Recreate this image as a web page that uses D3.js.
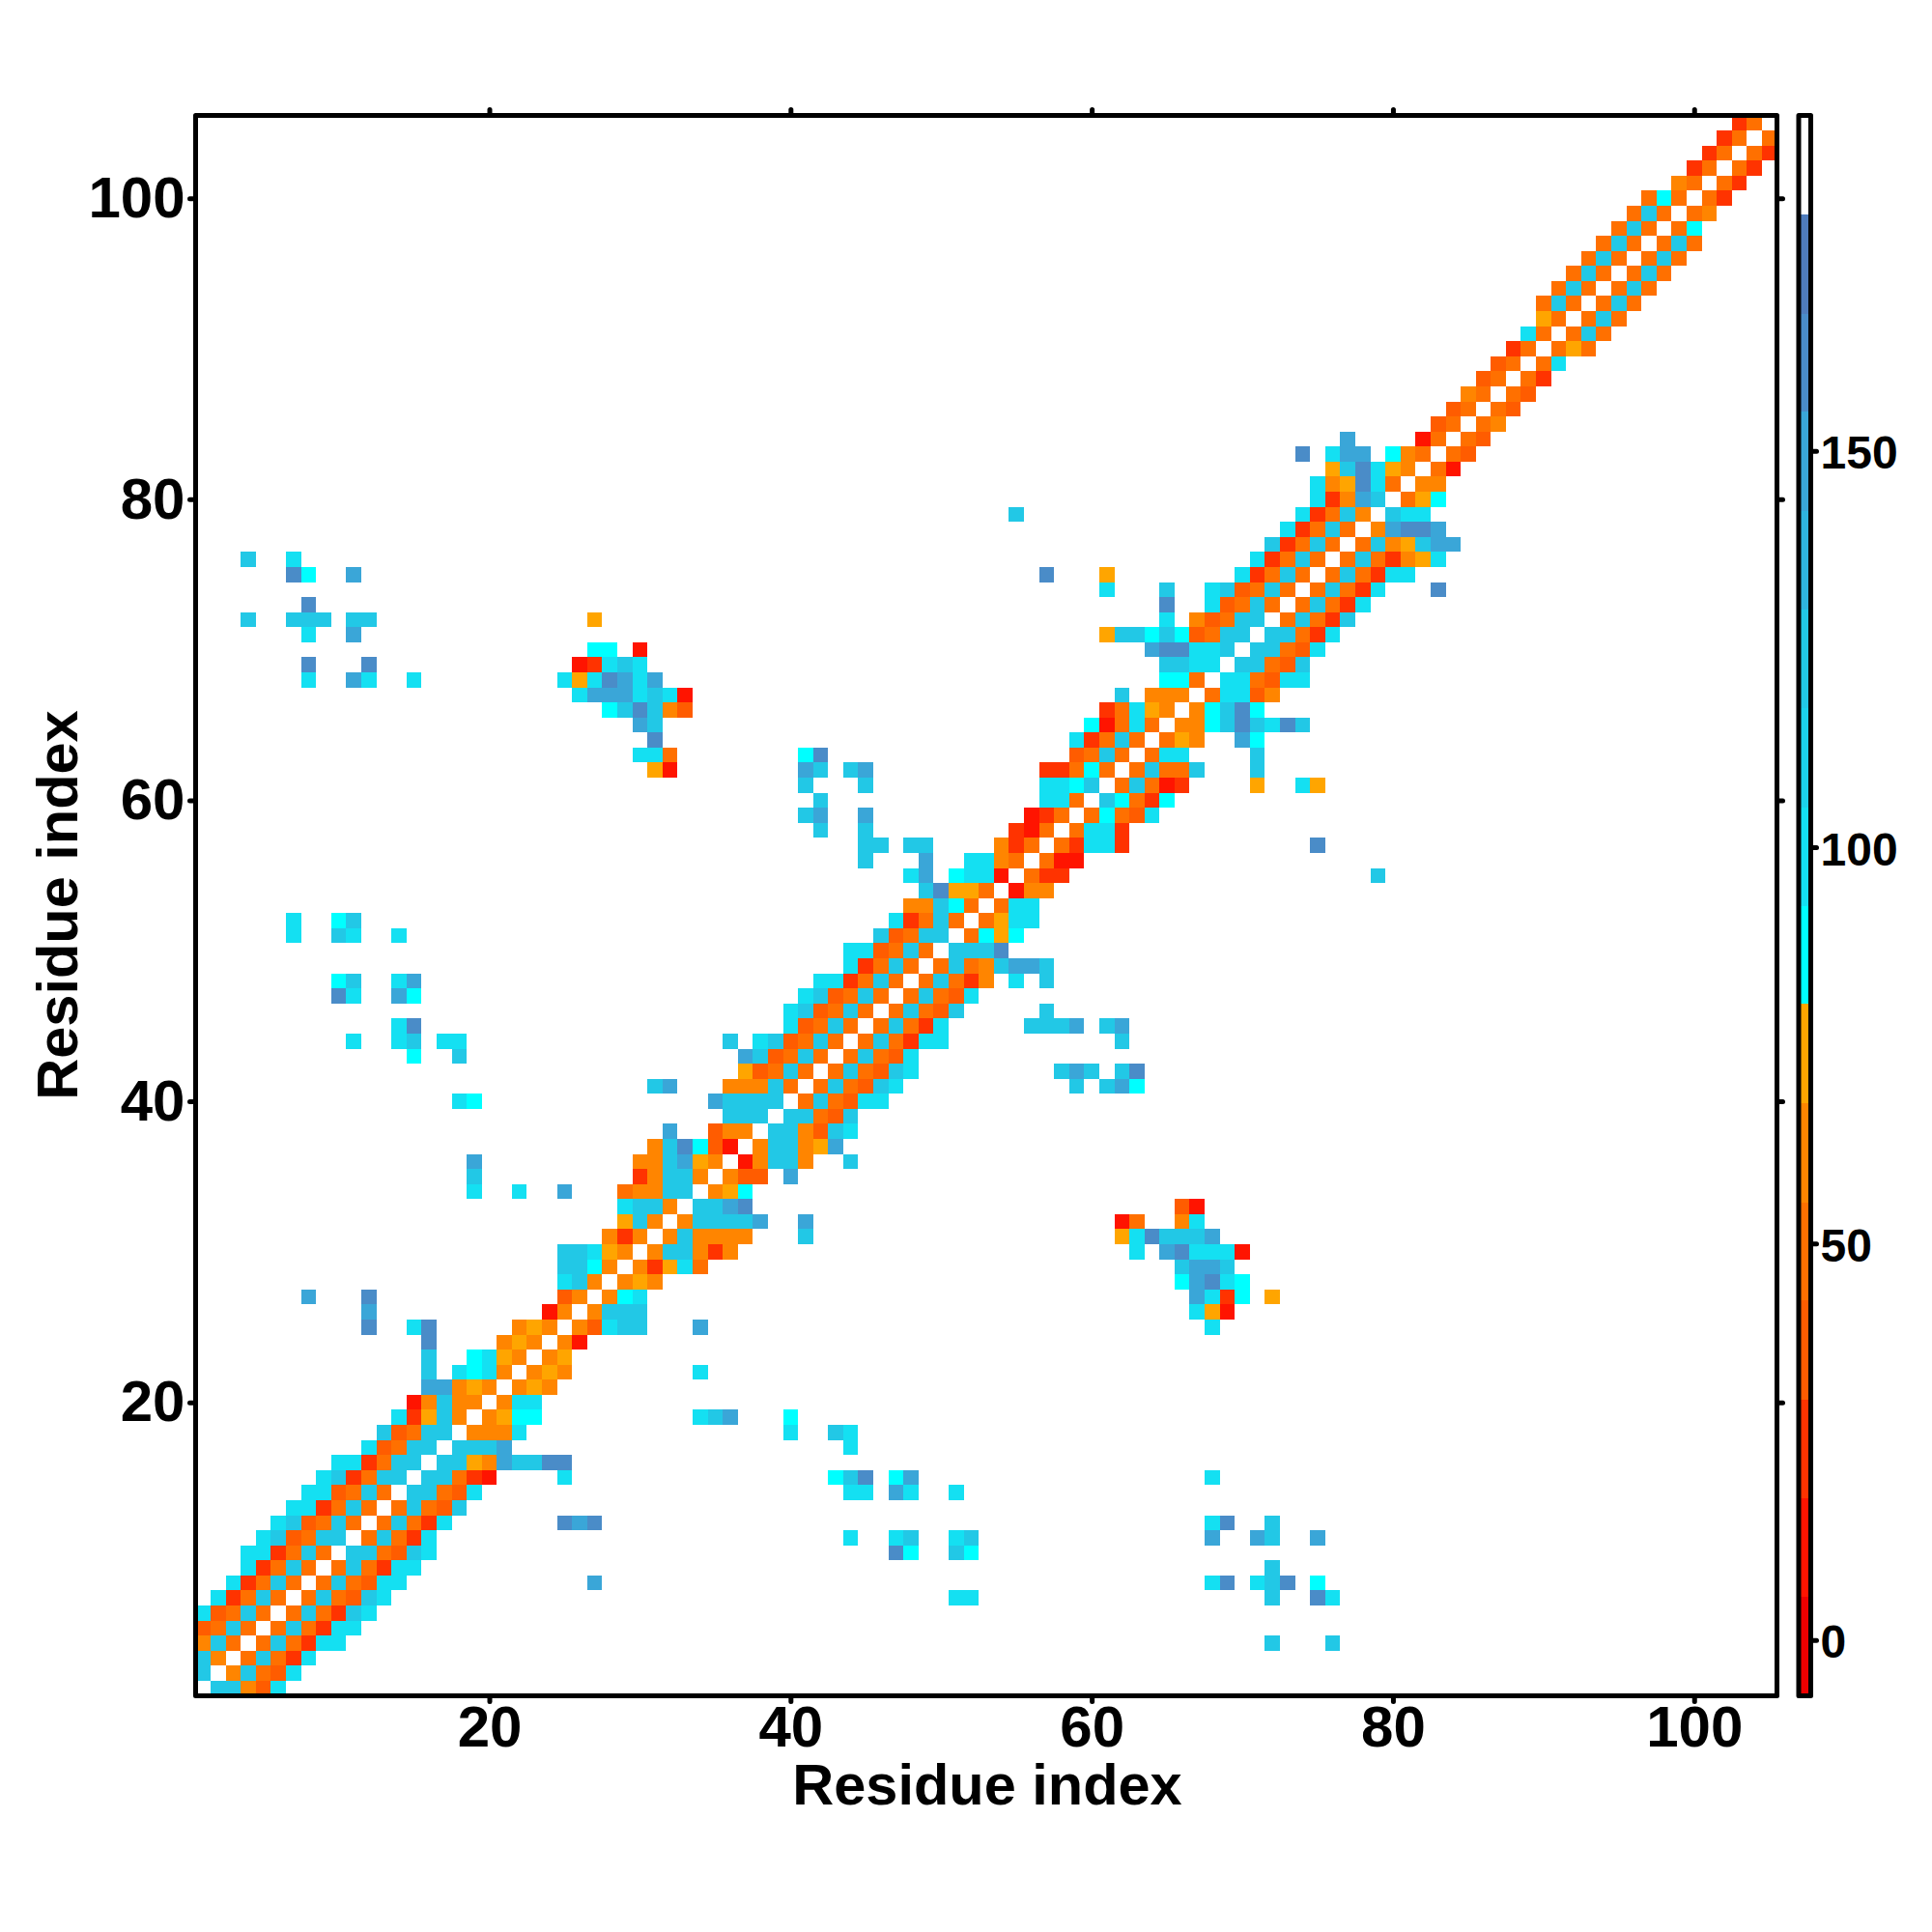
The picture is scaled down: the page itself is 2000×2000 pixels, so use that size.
<!DOCTYPE html>
<html>
<head>
<meta charset="utf-8">
<script src="https://cdn.jsdelivr.net/npm/d3@7"></script>
<style>
html,body{margin:0;padding:0;background:#fff}
svg{display:block}
text{font-family:"Liberation Sans",Arial,sans-serif;font-weight:700;fill:#000}
</style>
</head>
<body>
<svg id="chart" width="2000" height="2000"></svg>
<script>
// Level codes, each with a representative value (degrees)
const levelCodes  = ["R","r","d","o","O","a","c","t","s","b","B"];
const levelValues = [10, 25, 35, 48, 60, 72, 88, 100, 122, 148, 160];

// Colour bar bands
const bandBreaks = [5.4,17.9,30.3,42.8,55.2,67.7,80.2,92.6,105,117.5,130,142.4,154.9,167.3,179.8];
const bandColors = ["#ee0000","#ff1400","#ff3300","#ff5c00","#ff7000","#ff8500","#ffa500","#00ffff","#14e0f2","#1cd2ec","#22c8e6","#2fb4de","#3aa6d8","#4a8cc8","#4f7cbc","#ffffff"];
const barDomain = [-7.05,192.3];
const barTicks = [0,50,100,150];
const axisTicks = [20,40,60,80,100];

// Band next to the diagonal: entry k of a row is residue pair (row, row+1+k); "." is empty.
const bandRows = [
"ssOdt","Osodt","osort","osortt","osortt","osorst","osodst","osodtt","osortt","ssodst",
"osort","osort","osods","ssodt","ssorR","ssaObssBB","sssb","OOOt","Oacc","Ott",
"OaO","OaO","Oa","OR","Odtss","Osss","Oct","OaO","Orato","OssOrO",
"OsOOOO","Ossssb","ssbB","Oac","Odd.b","ROssO..s","OssOab","ssOdst","ssods","osodtt",
"osodst","osodst","osodt","osortt","osort","osods","osodt","osorO.t.s","osoOsbbs","sssB",
"ocac","oatt","ott","ROO","orr","oRR","orttr","ottr","ocodt","scorc",
"osoRr","osoos","ott","oaO..bc","OOcsBstBs","OcsBc","ottdO","ttodtt","ssods","ssodt",
"ssort","osors","osort","osort...B","osortt","osorOat","osOasbb","ObBBb","stt","oac",
"OO","oR","od","od","oO","od","od","or","ot","oao",
"oso","oso","oso","oso","oso","oso","oso","oc","oO","or",
"or","or","or","o"
];

// Contacts away from the band: "row column+code column+code ..."
const farContacts = [
"4 72s 76s",
"7 51t 52t 72s 75B 76t",
"8 27b 68t 69B 71t 72s 73B 75c",
"9 72s",
"10 47B 48c 51s 52c",
"11 44t 47t 48s 51t 52s 68b 71b 72s 75b",
"12 25B 26b 27B 68t 69B 72s",
"14 44t 45t 47b 48t 51t",
"15 25t 43c 44s 45B 47c 48b 68t",
"17 44t",
"18 40t 43s 44t",
"19 34t 35s 36b 40c",
"22 34t",
"25 34b 68t",
"26 67t 68a 69R",
"27 67b 68t 69r 70c 72a",
"28 66c 67b 68B 69t 70c",
"29 66s 67b 68b 69s",
"30 63t 65b 66B 67t 68t 69t 70R",
"31 41s 62a 63t 64B 65s 66s 67s 68b",
"32 41b 62R 63o 66O 67t",
"33 66d 67R",
"41 59s 61s 62b 63c",
"42 58s 59b 60s 62s 63B",
"44 62s",
"45 56s 57s 58s 59b 61s 62b",
"46 57s",
"55 79s",
"57 75B",
"61 71a 74t 75a",
"62 71s",
"63 71s"
];

// Build the symmetric matrix cells
const valueOf = new Map(levelCodes.map((c,k)=>[c,levelValues[k]]));
const cells = [];
function addPair(r,c,code){
  if(code==="."||!valueOf.has(code)) return;
  const v = valueOf.get(code);
  cells.push({i:c,j:r,v});
  cells.push({i:r,j:c,v});
}
bandRows.forEach((s,k)=>{
  const r = k+1;
  [...s].forEach((code,o)=>addPair(r,r+1+o,code));
});
farContacts.forEach(line=>{
  const parts = line.split(" ");
  const r = +parts[0];
  parts.slice(1).forEach(p=>addPair(r,+p.slice(0,-1),p.slice(-1)));
});

const svg = d3.select("#chart");
const x = d3.scaleLinear().domain([0.5,105.5]).range([202.5,1839.5]);
const y = d3.scaleLinear().domain([0.5,105.5]).range([1755.5,119.5]);
const color = d3.scaleThreshold().domain(bandBreaks).range(bandColors);

// Cells
const cellW = x(1.5)-x(0.5), cellH = y(0.5)-y(1.5);
svg.append("g").selectAll("rect").data(cells).join("rect")
  .attr("x",d=>x(d.i-0.5)).attr("y",d=>y(d.j+0.5))
  .attr("width",cellW).attr("height",cellH)
  .attr("fill",d=>color(d.v)).attr("shape-rendering","crispEdges");

// Frame
svg.append("rect").attr("x",x.range()[0]).attr("y",y.range()[1])
  .attr("width",x.range()[1]-x.range()[0]).attr("height",y.range()[0]-y.range()[1])
  .attr("fill","none").attr("stroke","#000").attr("stroke-width",5).attr("stroke-linejoin","round");

// Axes
function styleAxis(g,fontSize){
  g.select(".domain").remove();
  g.selectAll(".tick line").attr("stroke","#000").attr("stroke-width",5).attr("stroke-linecap","round");
  g.selectAll(".tick text").attr("font-size",fontSize).attr("font-family",'"Liberation Sans",Arial,sans-serif').attr("font-weight",700).attr("fill","#000");
}
svg.append("g").attr("transform",`translate(0,${y.range()[0]})`)
  .call(d3.axisBottom(x).tickValues(axisTicks).tickSize(6).tickPadding(4)).call(styleAxis,60);
svg.append("g").attr("transform",`translate(${x.range()[0]},0)`)
  .call(d3.axisLeft(y).tickValues(axisTicks).tickSize(6).tickPadding(5)).call(styleAxis,60);
svg.append("g").attr("transform",`translate(0,${y.range()[1]})`)
  .call(d3.axisTop(x).tickValues(axisTicks).tickSize(6).tickFormat("")).call(styleAxis,60);
svg.append("g").attr("transform",`translate(${x.range()[1]},0)`)
  .call(d3.axisRight(y).tickValues(axisTicks).tickSize(6).tickFormat("")).call(styleAxis,60);

// Axis titles
svg.append("text").attr("x",1027-5).attr("y",1878-10).attr("text-anchor","middle").attr("font-size",59.5).text("Residue index");
svg.append("text").attr("transform","translate(80,937) rotate(-90)").attr("text-anchor","middle").attr("font-size",59.5).text("Residue index");

// Colour bar
const barX0 = 1862, barX1 = 1874.5;
const barY = d3.scaleLinear().domain(barDomain).range([1755.5,119.5]);
const edges = [barDomain[0],...bandBreaks,barDomain[1]];
svg.append("g").selectAll("rect").data(bandColors).join("rect")
  .attr("x",barX0).attr("width",barX1-barX0)
  .attr("y",(d,k)=>barY(edges[k+1])).attr("height",(d,k)=>barY(edges[k])-barY(edges[k+1]))
  .attr("fill",d=>d).attr("shape-rendering","crispEdges");
svg.append("rect").attr("x",barX0).attr("y",119.5).attr("width",barX1-barX0).attr("height",1636)
  .attr("fill","none").attr("stroke","#000").attr("stroke-width",5).attr("stroke-linejoin","round");
const barAxis = svg.append("g").attr("transform",`translate(${barX1},0)`)
  .call(d3.axisRight(barY).tickValues(barTicks).tickSize(6).tickPadding(4));
barAxis.call(styleAxis,48);
barAxis.selectAll(".tick text").attr("dy","0.38em");
</script>
</body>
</html>
